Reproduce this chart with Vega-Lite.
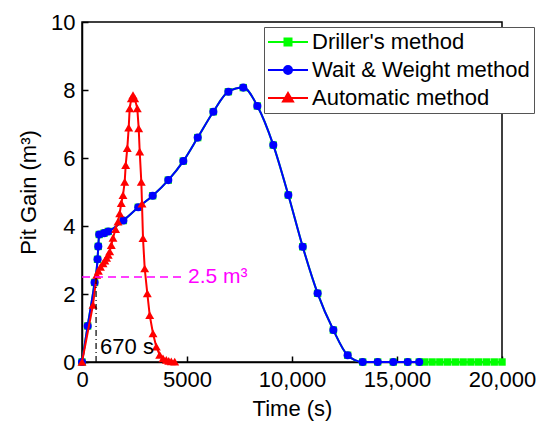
{
  "$schema": "https://vega.github.io/schema/vega-lite/v6.json",
  "width": 420,
  "height": 340,
  "autosize": {"type": "none"},
  "padding": {"left": 82, "top": 22, "right": 37, "bottom": 70},
  "background": "white",
  "config": {
    "font": "Liberation Sans",
    "view": {"stroke": "black", "strokeWidth": 1.5},
    "axis": {
      "grid": false,
      "domainColor": "black",
      "domainWidth": 1.5,
      "tickColor": "black",
      "tickWidth": 1.5,
      "tickSize": -6,
      "labelPadding": 13,
      "labelFontSize": 22,
      "labelColor": "black",
      "titleFontSize": 22,
      "titleFontWeight": "normal",
      "titleColor": "black",
      "labelFlush": false,
      "labelOverlap": false
    },
    "legend": {
      "orient": "none",
      "legendX": 182,
      "legendY": 5,
      "labelFontSize": 22,
      "labelColor": "black",
      "labelLimit": 400,
      "symbolSize": 400,
      "symbolOffset": 9,
      "labelOffset": 13,
      "padding": 4,
      "rowPadding": 6,
      "strokeColor": "#555555",
      "fillColor": "white",
      "symbolStrokeWidth": 2
    }
  },
  "datasets": {
    "curves": [
      {"method": "Driller's method", "t": 0, "v": 0},
      {"method": "Driller's method", "t": 270, "v": 1.06},
      {"method": "Driller's method", "t": 600, "v": 2.34},
      {"method": "Driller's method", "t": 740, "v": 3.02},
      {"method": "Driller's method", "t": 775, "v": 3.4},
      {"method": "Driller's method", "t": 820, "v": 3.75},
      {"method": "Driller's method", "t": 1050, "v": 3.79},
      {"method": "Driller's method", "t": 1250, "v": 3.84},
      {"method": "Driller's method", "t": 1970, "v": 4.16},
      {"method": "Driller's method", "t": 2680, "v": 4.55},
      {"method": "Driller's method", "t": 3365, "v": 4.89},
      {"method": "Driller's method", "t": 4110, "v": 5.35},
      {"method": "Driller's method", "t": 4825, "v": 5.91},
      {"method": "Driller's method", "t": 5510, "v": 6.6},
      {"method": "Driller's method", "t": 6255, "v": 7.36},
      {"method": "Driller's method", "t": 6970, "v": 7.95},
      {"method": "Driller's method", "t": 7680, "v": 8.07},
      {"method": "Driller's method", "t": 8350, "v": 7.53},
      {"method": "Driller's method", "t": 9110, "v": 6.38},
      {"method": "Driller's method", "t": 9825, "v": 4.91},
      {"method": "Driller's method", "t": 10510, "v": 3.39},
      {"method": "Driller's method", "t": 11220, "v": 2.02},
      {"method": "Driller's method", "t": 11970, "v": 0.94},
      {"method": "Driller's method", "t": 12650, "v": 0.2},
      {"method": "Driller's method", "t": 13365, "v": 0},
      {"method": "Driller's method", "t": 14080, "v": 0},
      {"method": "Driller's method", "t": 14825, "v": 0},
      {"method": "Driller's method", "t": 15510, "v": 0},
      {"method": "Driller's method", "t": 16060, "v": 0},
      {"method": "Driller's method", "t": 16300, "v": 0},
      {"method": "Driller's method", "t": 16670, "v": 0},
      {"method": "Driller's method", "t": 17040, "v": 0},
      {"method": "Driller's method", "t": 17410, "v": 0},
      {"method": "Driller's method", "t": 17780, "v": 0},
      {"method": "Driller's method", "t": 18150, "v": 0},
      {"method": "Driller's method", "t": 18520, "v": 0},
      {"method": "Driller's method", "t": 18890, "v": 0},
      {"method": "Driller's method", "t": 19260, "v": 0},
      {"method": "Driller's method", "t": 19630, "v": 0},
      {"method": "Driller's method", "t": 20000, "v": 0},
      {"method": "Wait & Weight method", "t": 0, "v": 0},
      {"method": "Wait & Weight method", "t": 270, "v": 1.06},
      {"method": "Wait & Weight method", "t": 600, "v": 2.34},
      {"method": "Wait & Weight method", "t": 740, "v": 3.02},
      {"method": "Wait & Weight method", "t": 775, "v": 3.4},
      {"method": "Wait & Weight method", "t": 820, "v": 3.75},
      {"method": "Wait & Weight method", "t": 1050, "v": 3.79},
      {"method": "Wait & Weight method", "t": 1250, "v": 3.84},
      {"method": "Wait & Weight method", "t": 1970, "v": 4.16},
      {"method": "Wait & Weight method", "t": 2680, "v": 4.55},
      {"method": "Wait & Weight method", "t": 3365, "v": 4.89},
      {"method": "Wait & Weight method", "t": 4110, "v": 5.35},
      {"method": "Wait & Weight method", "t": 4825, "v": 5.91},
      {"method": "Wait & Weight method", "t": 5510, "v": 6.6},
      {"method": "Wait & Weight method", "t": 6255, "v": 7.36},
      {"method": "Wait & Weight method", "t": 6970, "v": 7.95},
      {"method": "Wait & Weight method", "t": 7680, "v": 8.07},
      {"method": "Wait & Weight method", "t": 8350, "v": 7.53},
      {"method": "Wait & Weight method", "t": 9110, "v": 6.38},
      {"method": "Wait & Weight method", "t": 9825, "v": 4.91},
      {"method": "Wait & Weight method", "t": 10510, "v": 3.39},
      {"method": "Wait & Weight method", "t": 11220, "v": 2.02},
      {"method": "Wait & Weight method", "t": 11970, "v": 0.94},
      {"method": "Wait & Weight method", "t": 12650, "v": 0.2},
      {"method": "Wait & Weight method", "t": 13365, "v": 0},
      {"method": "Wait & Weight method", "t": 14080, "v": 0},
      {"method": "Wait & Weight method", "t": 14825, "v": 0},
      {"method": "Wait & Weight method", "t": 15510, "v": 0},
      {"method": "Wait & Weight method", "t": 16060, "v": 0},
      {"method": "Automatic method", "t": 0, "v": 0},
      {"method": "Automatic method", "t": 524, "v": 1.68},
      {"method": "Automatic method", "t": 700, "v": 2.56},
      {"method": "Automatic method", "t": 780, "v": 2.68},
      {"method": "Automatic method", "t": 880, "v": 2.8},
      {"method": "Automatic method", "t": 1000, "v": 2.9},
      {"method": "Automatic method", "t": 1090, "v": 2.98},
      {"method": "Automatic method", "t": 1170, "v": 3.06},
      {"method": "Automatic method", "t": 1250, "v": 3.15},
      {"method": "Automatic method", "t": 1320, "v": 3.25},
      {"method": "Automatic method", "t": 1395, "v": 3.44},
      {"method": "Automatic method", "t": 1476, "v": 3.65},
      {"method": "Automatic method", "t": 1600, "v": 3.91},
      {"method": "Automatic method", "t": 1714, "v": 4.13},
      {"method": "Automatic method", "t": 1795, "v": 4.37},
      {"method": "Automatic method", "t": 1871, "v": 4.67},
      {"method": "Automatic method", "t": 1952, "v": 4.91},
      {"method": "Automatic method", "t": 2033, "v": 5.3},
      {"method": "Automatic method", "t": 2081, "v": 5.79},
      {"method": "Automatic method", "t": 2157, "v": 6.29},
      {"method": "Automatic method", "t": 2224, "v": 6.89},
      {"method": "Automatic method", "t": 2271, "v": 7.46},
      {"method": "Automatic method", "t": 2348, "v": 7.75},
      {"method": "Automatic method", "t": 2429, "v": 7.85},
      {"method": "Automatic method", "t": 2510, "v": 7.75},
      {"method": "Automatic method", "t": 2633, "v": 7.46},
      {"method": "Automatic method", "t": 2700, "v": 6.87},
      {"method": "Automatic method", "t": 2748, "v": 6.19},
      {"method": "Automatic method", "t": 2824, "v": 5.3},
      {"method": "Automatic method", "t": 2857, "v": 4.66},
      {"method": "Automatic method", "t": 2905, "v": 3.64},
      {"method": "Automatic method", "t": 2986, "v": 2.75},
      {"method": "Automatic method", "t": 3110, "v": 2.02},
      {"method": "Automatic method", "t": 3224, "v": 1.38},
      {"method": "Automatic method", "t": 3381, "v": 0.84},
      {"method": "Automatic method", "t": 3538, "v": 0.45},
      {"method": "Automatic method", "t": 3700, "v": 0.21},
      {"method": "Automatic method", "t": 3857, "v": 0.11},
      {"method": "Automatic method", "t": 4014, "v": 0.06},
      {"method": "Automatic method", "t": 4130, "v": 0.03},
      {"method": "Automatic method", "t": 4252, "v": 0.02},
      {"method": "Automatic method", "t": 4414, "v": 0.01}
    ]
  },
  "encoding": {
    "x": {
      "field": "t", "type": "quantitative", "title": "Time (s)",
      "scale": {"domain": [0, 20000], "nice": false},
      "axis": {"values": [0, 5000, 10000, 15000, 20000], "labelExpr": "datum.value >= 10000 ? format(datum.value, ',') : format(datum.value, 'd')", "titlePadding": 8}
    },
    "y": {
      "field": "v", "type": "quantitative", "title": "Pit Gain (m³)",
      "scale": {"domain": [0, 10], "nice": false},
      "axis": {"values": [0, 2, 4, 6, 8, 10], "titlePadding": 10}
    }
  },
  "layer": [
    {
      "data": {"name": "curves"},
      "transform": [{"filter": "datum.method === 'Driller\\'s method'"}],
      "mark": {"type": "line", "interpolate": "monotone", "strokeWidth": 2},
      "encoding": {
        "color": {
          "field": "method", "type": "nominal",
          "scale": {"domain": ["Driller's method", "Wait & Weight method", "Automatic method"], "range": ["#00ff00", "#0000ff", "#ff0000"]},
          "legend": {
            "title": null,
            "encode": {
              "symbols": {
                "update": {
                  "shape": {"signal": "datum.index === 0 ? 'M-2,0H2M-0.35,-0.35H0.35V0.35H-0.35Z' : datum.index === 1 ? 'M-2,0H2M0.4,0A0.4,0.4 0 1 1 -0.4,0A0.4,0.4 0 1 1 0.4,0Z' : 'M-2,0H2M0,-0.5L0.5,0.35H-0.5Z'"},
                  "fill": {"signal": "datum.index === 0 ? '#00ff00' : datum.index === 1 ? '#0000ff' : '#ff0000'"},
                  "stroke": {"signal": "datum.index === 0 ? '#00ff00' : datum.index === 1 ? '#0000ff' : '#ff0000'"},
                  "opacity": {"value": 1},
                  "strokeWidth": {"value": 2}
                }
              }
            }
          }
        }
      }
    },
    {
      "data": {"name": "curves"},
      "transform": [{"filter": "datum.method === 'Driller\\'s method'"}],
      "mark": {"type": "point", "filled": true, "shape": "square", "size": 55, "opacity": 1},
      "encoding": {"color": {"field": "method", "type": "nominal"}}
    },
    {
      "data": {"name": "curves"},
      "transform": [{"filter": "datum.method === 'Wait & Weight method'"}],
      "mark": {"type": "line", "interpolate": "monotone", "strokeWidth": 2},
      "encoding": {"color": {"field": "method", "type": "nominal"}}
    },
    {
      "data": {"name": "curves"},
      "transform": [{"filter": "datum.method === 'Wait & Weight method'"}],
      "mark": {"type": "point", "filled": true, "shape": "circle", "size": 65, "opacity": 1},
      "encoding": {"color": {"field": "method", "type": "nominal"}}
    },
    {
      "data": {"name": "curves"},
      "transform": [{"filter": "datum.method === 'Automatic method'"}],
      "mark": {"type": "line", "strokeWidth": 2},
      "encoding": {"color": {"field": "method", "type": "nominal"}}
    },
    {
      "data": {"name": "curves"},
      "transform": [{"filter": "datum.method === 'Automatic method'"}],
      "mark": {"type": "point", "filled": true, "shape": "triangle-up", "size": 80, "opacity": 1},
      "encoding": {"color": {"field": "method", "type": "nominal"}}
    },
    {
      "data": {"values": [{"t": 0, "t2": 4900, "v": 2.5}]},
      "mark": {"type": "rule", "color": "#ff00ff", "strokeWidth": 1.5, "strokeDash": [8, 5]},
      "encoding": {"x2": {"field": "t2"}}
    },
    {
      "data": {"values": [{"t": 670, "v": 0, "v2": 2.5}]},
      "mark": {"type": "rule", "color": "black", "strokeWidth": 1.2, "strokeDash": [6, 3, 1, 3]},
      "encoding": {"y2": {"field": "v2"}}
    },
    {
      "data": {"values": [{"t": 670, "v": 0.45, "label": "670 s"}]},
      "mark": {"type": "text", "align": "left", "baseline": "middle", "dx": 4, "fontSize": 22, "color": "black"},
      "encoding": {"text": {"field": "label"}}
    },
    {
      "data": {"values": [{"t": 5050, "v": 2.5, "label": "2.5 m³"}]},
      "mark": {"type": "text", "align": "left", "baseline": "middle", "fontSize": 21, "color": "#ff00ff"},
      "encoding": {"text": {"field": "label"}}
    }
  ]
}
